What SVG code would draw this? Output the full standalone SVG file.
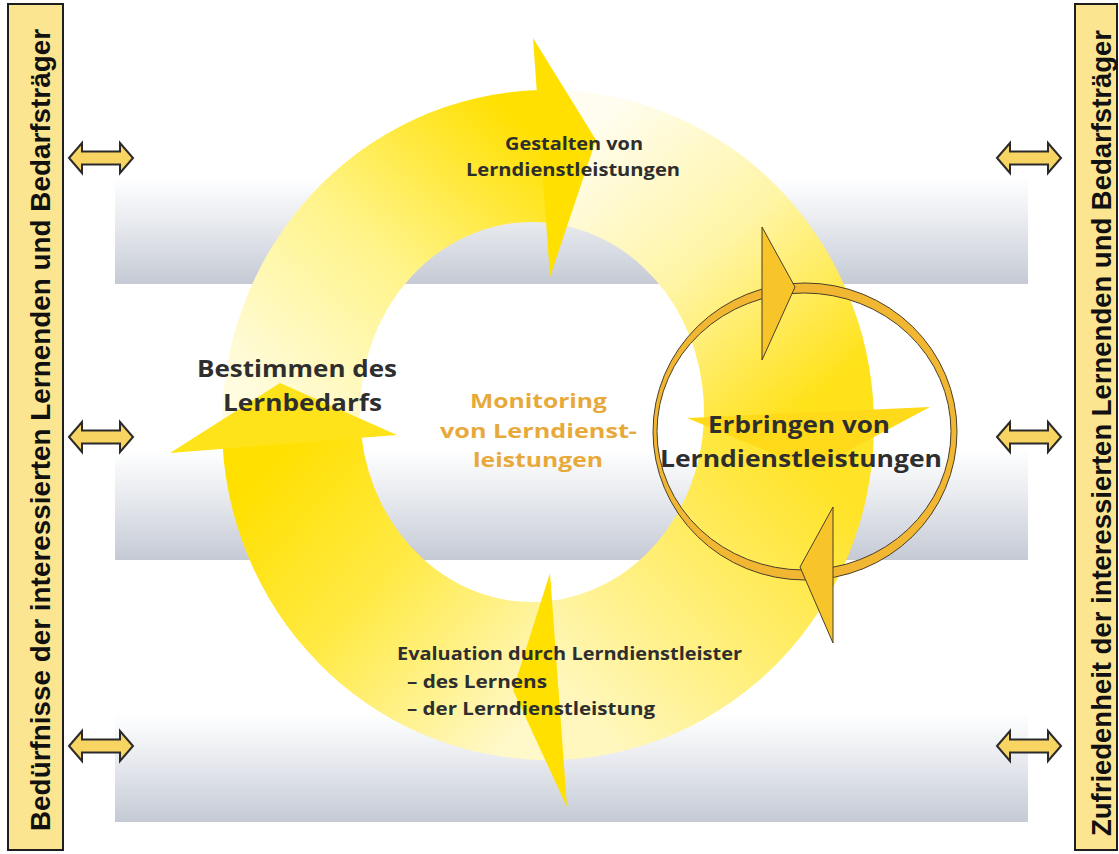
<svg xmlns="http://www.w3.org/2000/svg" width="1119" height="854" viewBox="0 0 1119 854">
<defs>
<linearGradient id="band" x1="0" y1="0" x2="0" y2="1">
<stop offset="0" stop-color="#ffffff"/>
<stop offset="0.35" stop-color="#eceef2"/>
<stop offset="1" stop-color="#c5cad5"/>
</linearGradient>
<linearGradient id="gTop" gradientUnits="userSpaceOnUse" x1="290" y1="430" x2="545" y2="140">
<stop offset="0" stop-color="#fffce0"/>
<stop offset="0.5" stop-color="#fff48a"/>
<stop offset="1" stop-color="#ffe000"/>
</linearGradient>
<linearGradient id="gRight" gradientUnits="userSpaceOnUse" x1="570" y1="140" x2="800" y2="410">
<stop offset="0" stop-color="#fffdf0"/>
<stop offset="0.5" stop-color="#fff5a5"/>
<stop offset="1" stop-color="#ffe21a"/>
</linearGradient>
<linearGradient id="gBottom" gradientUnits="userSpaceOnUse" x1="800" y1="450" x2="560" y2="690">
<stop offset="0" stop-color="#ffe326"/>
<stop offset="0.5" stop-color="#ffee70"/>
<stop offset="1" stop-color="#fff7bd"/>
</linearGradient>
<linearGradient id="gLeft" gradientUnits="userSpaceOnUse" x1="555" y1="690" x2="290" y2="440">
<stop offset="0" stop-color="#fff8c8"/>
<stop offset="0.55" stop-color="#ffea45"/>
<stop offset="1" stop-color="#ffe000"/>
</linearGradient>
<path id="dbl" d="M -32 0 L -19 -15 L -19 -6.5 L 19 -6.5 L 19 -15 L 32 0 L 19 15 L 19 6.5 L -19 6.5 L -19 15 Z"/>
</defs>
<style>
.lbl{font-family:"Open Sans","Liberation Sans",Arial,sans-serif;font-weight:700;fill:#2e2e2e}
.mon{font-family:"Open Sans","Liberation Sans",Arial,sans-serif;font-weight:700;fill:#e8a93b;font-size:20px}
.bar{fill:#fce590;stroke:#1e1e1e;stroke-width:2}
.bartxt{font-family:"Liberation Sans",Arial,sans-serif;font-weight:700;font-size:28px;fill:#111}
.dbl{fill:#f8d462;stroke:#2a2a2a;stroke-width:2}
.ring{fill:#f1b733;stroke:#4a3f28;stroke-width:1;fill-rule:evenodd}
.shead{fill:#f7c42a;stroke:#4a3f28;stroke-width:1}
.band{fill:url(#band)}
</style>
<rect width="1119" height="854" fill="#ffffff"/>
<g id="bands">
<rect class="band" x="115" y="178" width="913" height="106"/>
<rect class="band" x="115" y="450" width="913" height="110"/>
<rect class="band" x="115" y="714" width="913" height="108"/>
</g>
<g id="connectors">
<path d="M 222.2 436.7 A 326 335 0 0 1 540 90.1 L 549 222.9 A 172 190 0 0 0 360.7 428.6 Z" fill="url(#gTop)"/>
<path d="M 560 90.2 A 326 335 0 0 1 873.8 412 L 703.8 420 A 172 190 0 0 0 557 224 Z" fill="url(#gRight)"/>
<path d="M 873.9 433.8 A 326 335 0 0 1 560 759.8 L 549 601.1 A 172 190 0 0 0 703.8 421.9 Z" fill="url(#gBottom)"/>
<path d="M 559.4 759.8 A 326 335 0 0 1 222.6 446 L 361.3 435 A 172 190 0 0 0 547 601.3 Z" fill="url(#gLeft)"/>
<polygon points="533,38 596,140 550,277" fill="#ffe000"/>
<polygon points="687,418 930,407 812,470" fill="#ffda1a"/>
<polygon points="550,573 513,690 567,807" fill="#ffe000"/>
<polygon points="170,453 280,383 397,435" fill="#ffe31a"/>
<path class="ring" d="M 653 431.5 A 152 148.5 0 1 1 957 431.5 A 152 148.5 0 1 1 653 431.5 Z M 657 431.5 A 147 138.5 0 1 0 951 431.5 A 147 138.5 0 1 0 657 431.5 Z"/>
<polygon class="shead" points="762,227 795,287 762,360"/>
<polygon class="shead" points="833,507 800,567 833,643"/>
<use href="#dbl" class="dbl" x="101" y="158"/>
<use href="#dbl" class="dbl" x="101" y="437"/>
<use href="#dbl" class="dbl" x="101" y="746"/>
<use href="#dbl" class="dbl" x="1029" y="158"/>
<use href="#dbl" class="dbl" x="1029" y="437"/>
<use href="#dbl" class="dbl" x="1029" y="746"/>
</g>
<g id="gestalten">
<text class="lbl" x="505" y="150" font-size="18" textLength="138" lengthAdjust="spacingAndGlyphs">Gestalten von</text>
<text class="lbl" x="466" y="176" font-size="18" textLength="214" lengthAdjust="spacingAndGlyphs">Lerndienstleistungen</text>
</g>
<g id="bestimmen">
<text class="lbl" x="197" y="377" font-size="24" textLength="200" lengthAdjust="spacingAndGlyphs">Bestimmen des</text>
<text class="lbl" x="223" y="411" font-size="24" textLength="159" lengthAdjust="spacingAndGlyphs">Lernbedarfs</text>
</g>
<g id="monitoring">
<text class="mon" x="470" y="408" textLength="137" lengthAdjust="spacingAndGlyphs">Monitoring</text>
<text class="mon" x="440" y="438" textLength="197" lengthAdjust="spacingAndGlyphs">von Lerndienst-</text>
<text class="mon" x="473" y="467" textLength="130" lengthAdjust="spacingAndGlyphs">leistungen</text>
</g>
<g id="erbringen">
<text class="lbl" x="708" y="433" font-size="23" textLength="182" lengthAdjust="spacingAndGlyphs">Erbringen von</text>
<text class="lbl" x="660" y="467" font-size="23" textLength="282" lengthAdjust="spacingAndGlyphs">Lerndienstleistungen</text>
</g>
<g id="evaluation">
<text class="lbl" x="397" y="660" font-size="18" textLength="345" lengthAdjust="spacingAndGlyphs">Evaluation durch Lerndienstleister</text>
<text class="lbl" x="407" y="688" font-size="18" textLength="140" lengthAdjust="spacingAndGlyphs">– des Lernens</text>
<text class="lbl" x="407" y="715" font-size="18" textLength="248" lengthAdjust="spacingAndGlyphs">– der Lerndienstleistung</text>
</g>
<g id="left-bar">
<rect class="bar" x="8" y="4" width="55" height="846"/>
<text class="bartxt" x="50" y="430" transform="rotate(-90 50 430)" text-anchor="middle" textLength="802" lengthAdjust="spacingAndGlyphs">Bedürfnisse der interessierten Lernenden und Bedarfsträger</text>
</g>
<g id="right-bar">
<rect class="bar" x="1075" y="4" width="42" height="846"/>
<text class="bartxt" x="1111" y="433" transform="rotate(-90 1111 433)" text-anchor="middle" textLength="806" lengthAdjust="spacingAndGlyphs">Zufriedenheit der interessierten Lernenden und Bedarfsträger</text>
</g>
</svg>
